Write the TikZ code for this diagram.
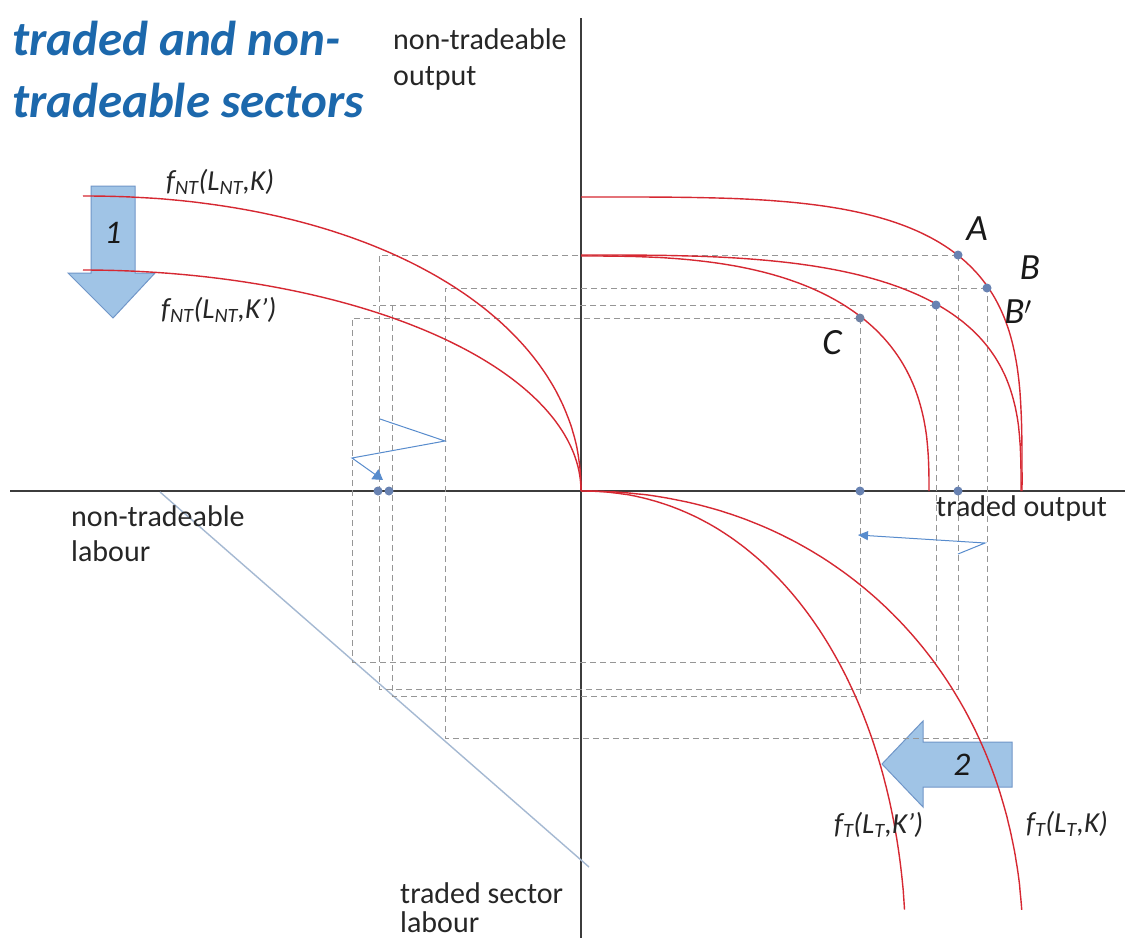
\documentclass[tikz,border=0pt]{standalone}
\usepackage{fontspec}
\setmainfont{Carlito}
\usetikzlibrary{arrows.meta}
\definecolor{titleblue}{RGB}{28,104,172}
\definecolor{curvered}{RGB}{214,40,50}
\definecolor{dotblue}{RGB}{104,130,178}
\definecolor{guidegray}{RGB}{150,150,150}
\definecolor{arrowblue}{RGB}{88,140,205}
\definecolor{blockfill}{RGB}{160,196,230}
\definecolor{blockedge}{RGB}{112,150,200}
\definecolor{diagblue}{RGB}{165,185,210}
\definecolor{axisgray}{RGB}{60,60,60}
\begin{document}
\begin{tikzpicture}[x=1pt,y=-1pt,
  axisline/.style={draw=axisgray,line width=1.1pt},
  curve/.style={draw=curvered,line width=1.4pt},
  guide/.style={draw=guidegray,line width=0.7pt,dash pattern=on 6pt off 4pt},
  pdot/.style={circle,fill=dotblue,inner sep=0pt,minimum size=9pt},
  thinarrow/.style={draw=arrowblue,line width=1pt},
  blockarrow/.style={fill=blockfill,draw=blockedge,line width=1pt},
  lbl/.style={inner sep=0pt,font=\fontsize{30}{35}\selectfont,text=black!85},
  flbl/.style={inner sep=0pt,font=\fontsize{29}{32}\selectfont\itshape,text=black!85},
  ptlbl/.style={inner sep=0pt,font=\fontsize{37}{40}\selectfont\itshape,text=black!90},
  ttl/.style={inner sep=0pt,font=\fontsize{49}{56}\selectfont\bfseries\itshape,text=titleblue}]
\useasboundingbox (0,0) rectangle (1125,938);
\fill[white] (0,0) rectangle (1125,938);

% block arrows (under the curves)
\draw[blockarrow] (91,186) -- (135,186) -- (135,273) -- (155,273) -- (113,318) -- (68,273) -- (91,273) -- cycle;
\node[ptlbl,font=\fontsize{33}{36}\selectfont\itshape] (one) at (113,233) {1};
\draw[blockarrow] (1012,742) -- (923,742) -- (923,721) -- (882,764) -- (923,807) -- (923,787) -- (1012,787) -- cycle;
\node[ptlbl,font=\fontsize{33}{36}\selectfont\itshape] (two) at (962,765) {2};

% axes
\coordinate (O) at (581,491);
\coordinate (ytop) at (581,18);
\coordinate (ybot) at (581,938);
\coordinate (xleft) at (10,491);
\coordinate (xright) at (1125,491);
\draw[axisline] (ytop) -- (ybot);
\draw[axisline] (xleft) -- (xright);

% labour constraint line
\coordinate (d1) at (160,492);
\coordinate (d2) at (589,867);
\draw[draw=diagblue,line width=1.4pt] (d1) -- (d2);

% guide lines
\coordinate (A) at (958,255);
\coordinate (B) at (987,288);
\coordinate (Bp) at (936,305);
\coordinate (C) at (860,318);
\draw[guide] (A) -- (379,255) -- (379,689) -- (958,689) -- (A);
\draw[guide] (B) -- (445,288) -- (445,738) -- (987,738) -- (B);
\draw[guide] (Bp) -- (373,305);
\draw[guide] (392,305) -- (392,696) -- (860,696);
\draw[guide] (Bp) -- (936,662);
\draw[guide] (C) -- (352,318) -- (352,662) -- (936,662);
\draw[guide] (C) -- (860,696);

% non-tradeable production functions
\draw[curve] (O) -- plot[domain=0.1:89.9,samples=120,variable=\t]
  ({83+498*(cos(\t))^(0.952)},{491-295*(sin(\t))^(0.952)}) -- (83,196);
\draw[curve] (O) -- plot[domain=0.1:89.9,samples=120,variable=\t]
  ({83+498*cos(\t)},{491-221*sin(\t)}) -- (83,270);
% PPFs
\draw[curve] (1022,491) -- plot[domain=0.1:89.9,samples=120,variable=\t]
  ({581+441*(cos(\t))^(0.5405)},{491-294*(sin(\t))^(0.5405)}) -- (581,197);
\draw[curve] (1021,491) -- plot[domain=0.1:89.9,samples=120,variable=\t]
  ({581+440*(cos(\t))^(0.645)},{491-236*(sin(\t))^(0.645)}) -- (581,255);
\draw[curve] (929,491) -- plot[domain=0.1:89.9,samples=120,variable=\t]
  ({581+348*(cos(\t))^(0.7407)},{491-235*(sin(\t))^(0.7407)}) -- (581,256);
% traded production functions
\draw[curve] plot[domain=4.5:89.9,samples=120,variable=\t]
  ({581+442*(cos(\t))^(0.952)},{491+460*(1-(sin(\t))^(0.952))}) -- (O);
\draw[curve] plot[domain=5.6:89.9,samples=120,variable=\t]
  ({581+325*(cos(\t))^(0.952)},{491+470*(1-(sin(\t))^(0.952))}) -- (O);

% points
\node[pdot] (pA) at (A) {};
\node[pdot] (pB) at (B) {};
\node[pdot] (pBp) at (Bp) {};
\node[pdot,fill=dotblue!70!gray] (pC) at (C) {};
\node[pdot] (qC) at (860,491) {};
\node[pdot] (qA) at (958,491) {};
\node[pdot] (l1) at (378,491) {};
\node[pdot] (l2) at (389,491) {};

% small blue arrows
\coordinate (z1) at (380,419);
\coordinate (z2) at (445,441);
\coordinate (z3) at (352,458);
\coordinate (z4) at (383,480);
\draw[thinarrow,-{Triangle[length=10pt,width=12pt]}] (z1) -- (z2) -- (z3) -- (z4);
\coordinate (w1) at (958,554);
\coordinate (w2) at (985,543);
\coordinate (w3) at (858,535);
\draw[thinarrow,-{Triangle[length=10pt,width=9pt]}] (w1) -- (w2) -- (w3);

% point labels
\node[ptlbl] (labA) at (977,229) {A};
\node[ptlbl] (labB) at (1030,268) {B};
\node[ptlbl] (labBp) at (1018,312) {B$'$};
\node[ptlbl] (labC) at (832,343) {C};

% function labels
\node[flbl,anchor=west] (fnt1) at (166,182) {f\textsubscript{NT}(L\textsubscript{NT},K)};
\node[flbl,anchor=west] (fnt2) at (161,310) {f\textsubscript{NT}(L\textsubscript{NT},K')};
\node[flbl,anchor=west] (ft2) at (834,825) {f\textsubscript{T}(L\textsubscript{T},K')};
\node[flbl,anchor=west] (ft1) at (1026,824) {f\textsubscript{T}(L\textsubscript{T},K)};

% axis labels
\node[lbl,anchor=base west] (yl1) at (393,49) {non-tradeable};
\node[lbl,anchor=base west] (yl2) at (393,85) {output};
\node[lbl,anchor=base west] (xl) at (936,516) {traded output};
\node[lbl,anchor=base west] (nl1) at (71,526) {non-tradeable};
\node[lbl,anchor=base west] (nl2) at (71,561) {labour};
\node[lbl,anchor=base west] (tl1) at (400,903) {traded sector};
\node[lbl,anchor=base west] (tl2) at (400,932) {labour};

% title
\node[ttl,anchor=base west] (t1) at (12,55) {traded and non-};
\node[ttl,anchor=base west] (t2) at (12,117) {tradeable sectors};
\end{tikzpicture}
\end{document}
